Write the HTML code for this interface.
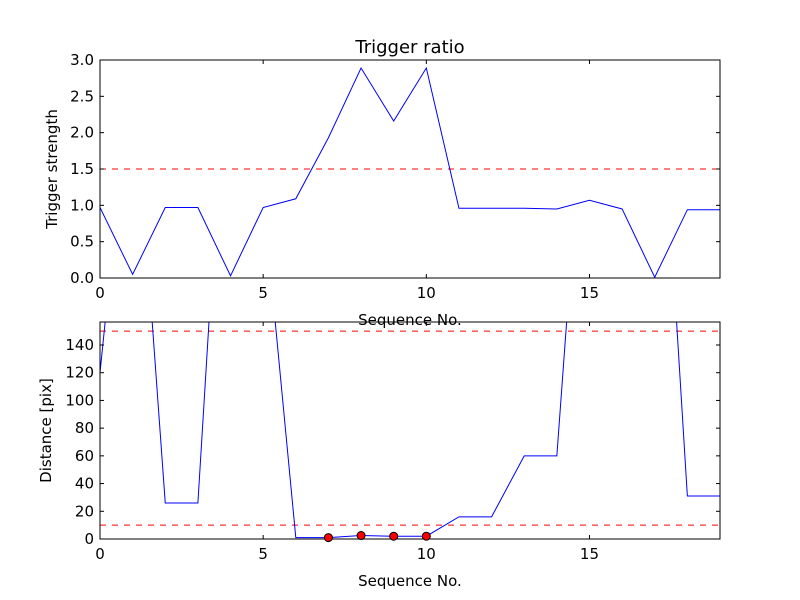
<!DOCTYPE html>
<html><head><meta charset="utf-8"><style>body{margin:0;background:#fff}svg{display:block;font-family:"DejaVu Sans","Liberation Sans",sans-serif}</style></head>
<body>
<svg id="c" width="800" height="600" viewBox="0 0 800 600"></svg>
<script>
const seq = [0,1,2,3,4,5,6,7,8,9,10,11,12,13,14,15,16,17,18,19];
const ratio = [0.97,0.05,0.97,0.97,0.03,0.97,1.09,1.93,2.89,2.16,2.89,0.96,0.96,0.96,0.95,1.07,0.95,0.01,0.94,0.94];
const dist = [120,352,26,26,410,248,1,1,2.5,2,2,16,16,60,60,382,400,411,31,31];
const hitX = [7,8,9,10];
const hitY = [1,2.5,2,2];
const topTicksY = [0,0.5,1,1.5,2,2.5,3];
const botTicksY = [0,20,40,60,80,100,120,140];
const ticksX = [0,5,10,15];
const ratioThresh = [1.5];
const distThresh = [150,10];

const NS="http://www.w3.org/2000/svg";
const svg=document.getElementById('c');
function mk(t,a,p){const e=document.createElementNS(NS,t);for(const k in a)e.setAttribute(k,a[k]);(p||svg).appendChild(e);return e;}
function panel(id,y0,y1,ymax,ys,ticksY,fmt,thr,yTitle,title){
  const x0=100,x1=720;
  const X=v=>x0+(v-0)/(19-0)*(x1-x0);
  const Y=v=>y1-v/ymax*(y1-y0);
  const g=mk('g',{});
  
  
  const cp=mk('clipPath',{id:'cp'+id},g);mk('rect',{x:x0,y:y0,width:x1-x0,height:y1-y0},cp);
  const dg=mk('g',{'clip-path':'url(#cp'+id+')'},g);
  thr.forEach(t=>{const l=mk('line',{x1:x0,x2:x1,y1:Y(t),y2:Y(t),stroke:'#f00','stroke-dasharray':'6,6','stroke-width':1},dg);
    
    });
  const p=mk('polyline',{points:seq.map((s,i)=>X(s)+','+Y(ys[i])).join(' '),fill:'none',stroke:'#00f','stroke-width':1},dg);
  
  
  const f=mk('rect',{x:x0,y:y0,width:x1-x0,height:y1-y0,fill:'none',stroke:'#000','stroke-width':1},g);
  
  
  ticksX.forEach(t=>{const x=X(t);mk('line',{x1:x,x2:x,y1:y1,y2:y1-4,stroke:'#000'},g);mk('line',{x1:x,x2:x,y1:y0,y2:y0+4,stroke:'#000'},g);
    const tx=mk('text',{x:x,y:y1+20,'text-anchor':'middle','font-size':15},g);tx.textContent=t;
    
    });
  ticksY.forEach(t=>{const y=Y(t);mk('line',{x1:x0,x2:x0+4,y1:y,y2:y,stroke:'#000'},g);mk('line',{x1:x1,x2:x1-4,y1:y,y2:y,stroke:'#000'},g);
    const tx=mk('text',{x:x0-6,y:y+5,'text-anchor':'end','font-size':15},g);tx.textContent=fmt(t);
    
    });
  const xt=mk('text',{x:(x0+x1)/2,y:y1+47,'text-anchor':'middle','font-size':15},g);xt.textContent='Sequence No.';
  
  
  const yt=mk('text',{x:0,y:0,'text-anchor':'middle','font-size':15,transform:`translate(${id==='top'?57:51},${(y0+y1)/2}) rotate(-90)`},g);yt.textContent=yTitle;
  
  
  if(title){const tt=mk('text',{x:(x0+x1)/2,y:y0-7,'text-anchor':'middle','font-size':18},g);tt.textContent=title;
    
    }
  return {X,Y,g};
}
panel('top',60,278,3,ratio,topTicksY,v=>v.toFixed(1),ratioThresh,'Trigger strength','Trigger ratio');
const b=panel('bottom',322,539,156.6,dist,botTicksY,v=>String(v),distThresh,'Distance [pix]',null);
hitX.forEach((x,i)=>{const c=mk('circle',{cx:b.X(x),cy:b.Y(hitY[i]),r:4,fill:'#f00',stroke:'#000','stroke-width':1},b.g);
  
  });
</script>
</body></html>
